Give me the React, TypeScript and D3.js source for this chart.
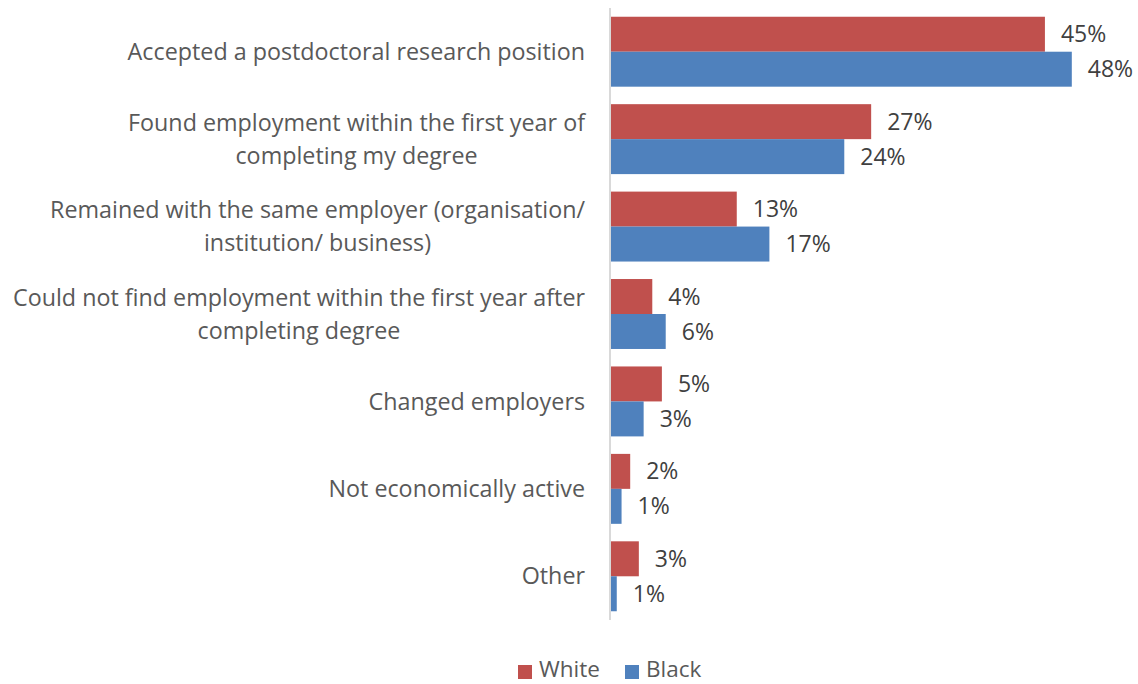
import React from "react";
import * as d3 from "d3";

const categories: string[][] = [
  ["Accepted a postdoctoral research position"],
  ["Found employment within the first year of", "completing my degree"],
  ["Remained with the same employer (organisation/", "institution/ business)"],
  ["Could not find employment within the first year after", "completing degree"],
  ["Changed employers"],
  ["Not economically active"],
  ["Other"],
];
const seriesNames = ["White", "Black"];
const whiteValues = [45.2, 27.1, 13.1, 4.3, 5.3, 2.0, 2.9];
const blackValues = [48.0, 24.3, 16.5, 5.7, 3.4, 1.1, 0.6];
const colors = ["#C0504D", "#4F81BD"];

const W = 1138;
const H = 684;
const FONT = "'Open Sans', sans-serif";
const CAT_SIZE = 23.3;
const VAL_SIZE = 23;
const LEG_SIZE = 22.5;

let ctx: CanvasRenderingContext2D | null = null;
function measure(t: string, size: number): number {
  if (!ctx) ctx = document.createElement("canvas").getContext("2d");
  if (!ctx) return t.length * size * 0.5;
  ctx.font = `${size}px ${FONT}`;
  return ctx.measureText(t).width;
}

export default function App() {
  const keys = categories.map((_, i) => String(i));
  const x = d3.scaleLinear().domain([0, 50]).range([611, 611 + 50 * 9.6]);
  const y = d3.scaleBand().domain(keys).range([8, 620]).paddingInner(0.2).paddingOuter(0.1);
  const sub = d3.scaleBand().domain(seriesNames).range([0, y.bandwidth()]);
  const series = [whiteValues, blackValues];

  return (
    <svg width={W} height={H} style={{ position: "absolute", left: 0, top: 0, background: "#fff" }} fontFamily={FONT}>
      {series.map((vals, s) =>
        vals.map((v, i) => (
          <g key={`${s}-${i}`}>
            <rect
              x={x(0)}
              y={(y(keys[i]) as number) + (sub(seriesNames[s]) as number)}
              width={x(v) - x(0)}
              height={sub.bandwidth()}
              fill={colors[s]}
            />
            <text
              x={x(v) + 16}
              y={(y(keys[i]) as number) + (sub(seriesNames[s]) as number) + sub.bandwidth() / 2}
              dy="0.35em"
              fontSize={VAL_SIZE}
              fill="#404040"
            >
              {Math.round(v)}%
            </text>
          </g>
        ))
      )}
      <line x1={610} x2={610} y1={8} y2={620} stroke="#D9D9D9" strokeWidth={2} />
      {categories.map((lines, i) => {
        const cy = (y(keys[i]) as number) + y.bandwidth() / 2;
        const lh = 33;
        const lw = Math.max(...lines.map((l) => measure(l, CAT_SIZE)));
        return (
          <text key={i} fontSize={CAT_SIZE} fill="#595959" textAnchor="middle">
            {lines.map((ln, j) => (
              <tspan key={j} x={585 - lw / 2} y={cy + (j - (lines.length - 1) / 2) * lh} dy="0.35em">
                {ln}
              </tspan>
            ))}
          </text>
        );
      })}
      <g>
        <rect x={518} y={665} width={14} height={14} fill={colors[0]} />
        <text x={539} y={669} dy="0.35em" fontSize={LEG_SIZE} fill="#595959">{seriesNames[0]}</text>
        <rect x={625} y={665} width={14} height={14} fill={colors[1]} />
        <text x={646} y={669} dy="0.35em" fontSize={LEG_SIZE} fill="#595959">{seriesNames[1]}</text>
      </g>
    </svg>
  );
}
